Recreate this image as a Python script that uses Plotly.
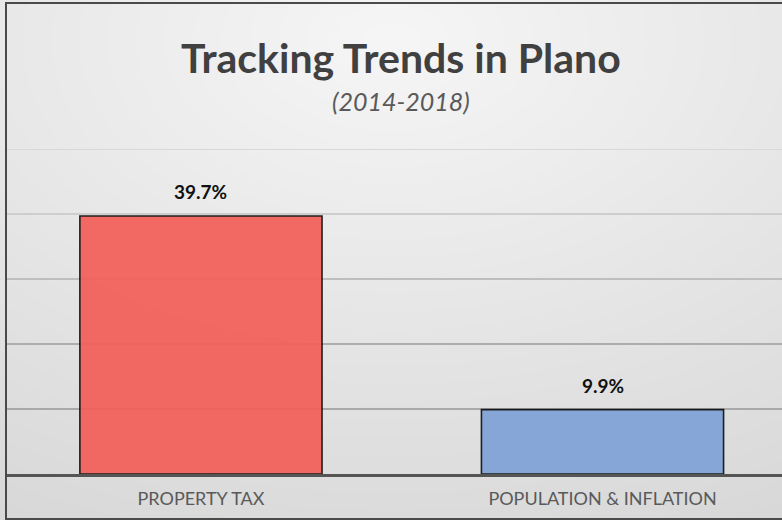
import base64
import struct
import zlib

import numpy as np
import plotly.graph_objects as go

# ---- data ----
categories = ["PROPERTY TAX", "POPULATION & INFLATION"]
growth_pct = [39.7, 9.9]
bar_colors = ["#f35f59", "#7fa2d6"]
title_text = "Tracking Trends in Plano"
subtitle_text = "(2014-2018)"
grid_values = [10, 20, 30, 40, 50]
grid_colors = ["#a9a9a9", "#adadad", "#bebebe", "#cecece", "#d8d8d8"]

W, H = 782, 520
ML, MR, MT, MB = 7, 0, 4, 2          # frame edges
PLOT_W, PLOT_H = W - ML - MR, H - MT - MB
BASE_Y, TOP_Y = 474, 149             # pixel rows of 0 % and 50 %


def py(y_px):
    """Pixel row (from top of figure) -> paper y coordinate."""
    return (H - MB - y_px) / PLOT_H


def px(x_px):
    """Pixel column -> paper x coordinate."""
    return (x_px - ML) / PLOT_W


def gradient_png(w, h):
    """Soft elliptical grey gradient, light at the top centre."""
    yy, xx = np.mgrid[0:h, 0:w].astype(float)
    t = np.sqrt(((xx - w / 2) / 680.0) ** 2 + ((yy - 40) / 434.0) ** 2)
    c = np.clip(246 - 24 * t, 205, 250).astype(np.uint8)
    rgb = np.dstack([c, c, c])
    raw = b"".join(b"\x00" + rgb[r].tobytes() for r in range(h))

    def chunk(tag, data):
        body = tag + data
        return struct.pack(">I", len(data)) + body + struct.pack(">I", zlib.crc32(body) & 0xFFFFFFFF)

    png = b"\x89PNG\r\n\x1a\n"
    png += chunk(b"IHDR", struct.pack(">IIBBBBB", w, h, 8, 2, 0, 0, 0))
    png += chunk(b"IDAT", zlib.compress(raw, 9))
    png += chunk(b"IEND", b"")
    return "data:image/png;base64," + base64.b64encode(png).decode()


fig = go.Figure()
fig.add_trace(
    go.Bar(
        x=categories,
        y=growth_pct,
        width=0.603,
        marker=dict(color=bar_colors, opacity=0.93, line=dict(color="#111111", width=1.6)),
        hoverinfo="skip",
    )
)
# empty trace that carries the frame axes
fig.add_trace(go.Scatter(x=[], y=[], xaxis="x2", yaxis="y2", hoverinfo="skip"))

# horizontal gridlines, fading toward the top
for gv, gc in zip(grid_values, grid_colors):
    fig.add_shape(
        type="line", xref="paper", yref="y", x0=0, x1=1, y0=gv, y1=gv,
        line=dict(color=gc, width=1.8), layer="below",
    )

# value labels above bars
for cat, val in zip(categories, growth_pct):
    fig.add_annotation(
        x=cat, y=val, text=f"<b>{val:.1f}%</b>", showarrow=False,
        yanchor="bottom", yshift=11,
        font=dict(family="Lato", size=19, color="#111111"),
    )

# title and subtitle
fig.add_annotation(
    x=px(W / 2 + 10), y=py(58), xref="paper", yref="paper", text=f"<b>{title_text}</b>",
    showarrow=False, yanchor="middle", xanchor="center",
    font=dict(family="Lato", size=41, color="#404040"),
)
fig.add_annotation(
    x=px(W / 2 + 10), y=py(101), xref="paper", yref="paper", text=f"<i>{subtitle_text}</i>",
    showarrow=False, yanchor="middle", xanchor="center",
    font=dict(family="Lato", size=25, color="#595959"),
)

fig.add_layout_image(
    source=gradient_png(W, H), xref="paper", yref="paper",
    x=px(0), y=py(0), sizex=W / PLOT_W, sizey=H / PLOT_H,
    xanchor="left", yanchor="top", sizing="stretch", layer="below",
)

frame_color = "#4a4a4a"
fig.update_layout(
    width=W, height=H,
    margin=dict(l=ML, r=MR, t=MT, b=MB, pad=0),
    paper_bgcolor="#e2e2e2", plot_bgcolor="rgba(0,0,0,0)",
    showlegend=False,
    xaxis=dict(
        range=[-0.483, 1.447], showgrid=False, zeroline=False,
        showline=True, linecolor="#555555", linewidth=3,
        ticks="", ticklabelstandoff=6,
        tickfont=dict(family="Lato", size=18, color="#595959"),
        anchor="y", fixedrange=True,
    ),
    yaxis=dict(
        range=[0, 50], dtick=10, showticklabels=False, zeroline=False,
        showgrid=False, showline=False, fixedrange=True,
        domain=[py(BASE_Y), py(TOP_Y)],
    ),
    # frame: bottom + mirrored top line, and the left edge
    xaxis2=dict(
        domain=[0, 1], anchor="y2", range=[0, 1], showline=True, mirror=True,
        linecolor=frame_color, linewidth=2, showgrid=False, zeroline=False,
        showticklabels=False, ticks="", fixedrange=True,
    ),
    yaxis2=dict(
        domain=[0, 1], anchor="x2", range=[0, 1], showline=True, mirror=False,
        linecolor=frame_color, linewidth=2, showgrid=False, zeroline=False,
        showticklabels=False, ticks="", fixedrange=True,
    ),
)

fig.write_html("out.html", config={"displayModeBar": False})
